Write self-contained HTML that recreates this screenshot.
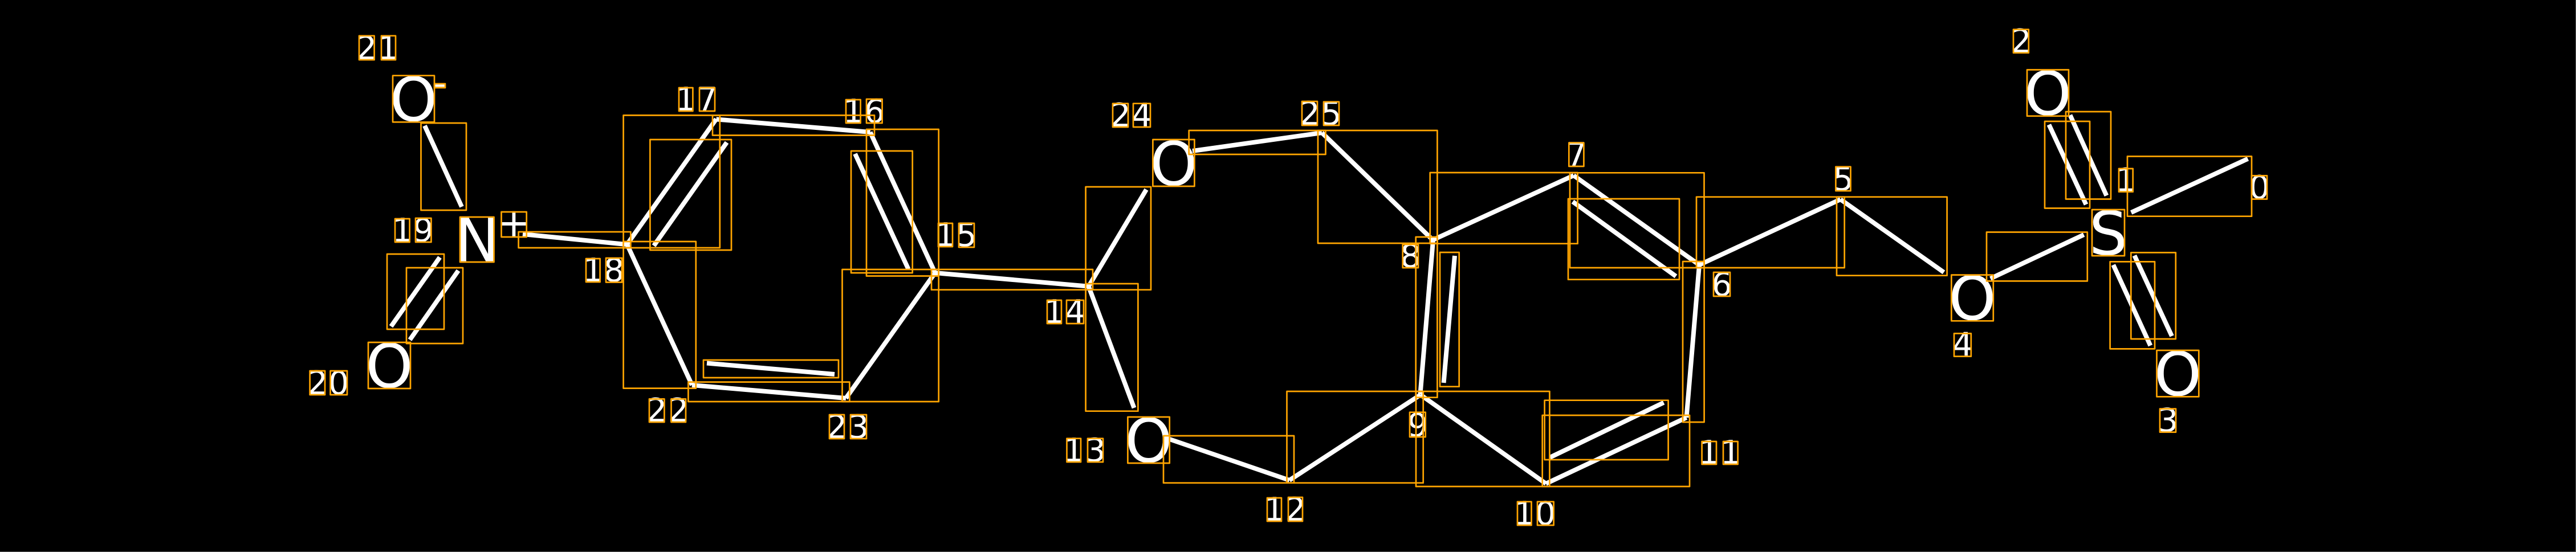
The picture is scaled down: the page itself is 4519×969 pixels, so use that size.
<!DOCTYPE html>
<html><head><meta charset="utf-8"><style>
html,body{margin:0;padding:0;background:#000;width:4519px;height:969px;overflow:hidden}
svg{display:block}
.b{stroke:#fff;stroke-width:8;fill:none}
.r{stroke:#ffa500;stroke-width:2.7;fill:none;stroke-linejoin:round}
text{font-family:"DejaVu Sans",sans-serif;fill:#fff;text-anchor:middle}
.a{font-size:106px}
.n{font-size:57px}
</style></head><body>
<svg width="4519" height="969" viewBox="0 0 4519 969" xmlns="http://www.w3.org/2000/svg">
<rect width="4519" height="969" fill="#000"/>
<rect x="4518" y="0" width="1" height="969" fill="#555"/>
<rect x="0" y="968" width="4519" height="1" fill="#555"/>

<g class="b">
<line x1="745" y1="220.7" x2="810" y2="363"/>
<line x1="917" y1="411" x2="1103" y2="429.5"/>
<line x1="771.5" y1="451.7" x2="686" y2="573"/>
<line x1="804" y1="475" x2="719" y2="596.5"/>
<line x1="1100" y1="429" x2="1256.5" y2="209"/>
<line x1="1147" y1="431.4" x2="1275" y2="250"/>
<line x1="1256.5" y1="209.4" x2="1526.6" y2="232"/>
<line x1="1526.6" y1="232" x2="1640.4" y2="479"/>
<line x1="1500" y1="270" x2="1593.6" y2="472.6"/>
<line x1="1640.4" y1="479" x2="1484" y2="699"/>
<line x1="1214" y1="676" x2="1484" y2="699"/>
<line x1="1240" y1="637.5" x2="1464" y2="657"/>
<line x1="1100" y1="429" x2="1214" y2="676"/>
<line x1="1640.4" y1="479" x2="1909.7" y2="502.7"/>
<line x1="1909.7" y1="502.7" x2="2011" y2="332.7"/>
<line x1="1909.7" y1="502.7" x2="1989.5" y2="716"/>
<line x1="2092" y1="265" x2="2319" y2="233"/>
<line x1="2319" y1="233" x2="2514" y2="421.7"/>
<line x1="2514" y1="421.7" x2="2491.5" y2="692"/>
<line x1="2552" y1="449" x2="2532.6" y2="672"/>
<line x1="2049" y1="770" x2="2262" y2="843"/>
<line x1="2262" y1="843" x2="2492" y2="693"/>
<line x1="2492" y1="693" x2="2712" y2="849"/>
<line x1="2712" y1="849" x2="2958.5" y2="733"/>
<line x1="2719" y1="803" x2="2918.6" y2="706.7"/>
<line x1="2958.5" y1="733" x2="2981" y2="465"/>
<line x1="2514" y1="421" x2="2760.6" y2="308"/>
<line x1="2760.6" y1="308" x2="2981" y2="465"/>
<line x1="2759" y1="354" x2="2940" y2="485"/>
<line x1="2981" y1="465" x2="3228.7" y2="350"/>
<line x1="3228.7" y1="350" x2="3410" y2="478"/>
<line x1="3491.8" y1="489" x2="3655.6" y2="412"/>
<line x1="3594.4" y1="218.8" x2="3659.5" y2="359"/>
<line x1="3631.5" y1="202" x2="3695.4" y2="343.4"/>
<line x1="3738.7" y1="373" x2="3943.4" y2="278.7"/>
<line x1="3707.3" y1="465" x2="3772.4" y2="606.7"/>
<line x1="3744.4" y1="448.6" x2="3810" y2="590"/>
</g>

<g>
<text class="a" x="725.5" y="212">O</text>
<text class="a" x="683" y="680">O</text>
<text class="a" x="837" y="458.5">N</text>
<text class="a" x="2059" y="325">O</text>
<text class="a" x="2015" y="811">O</text>
<text class="a" x="3592.5" y="201.5">O</text>
<text class="a" x="3460" y="561">O</text>
<text class="a" x="3820.5" y="694">O</text>
<text class="a" x="3698.5" y="447">S</text>
<text x="784" y="169" style="font-size:70px;text-anchor:end">-</text>
<text x="901.5" y="415" style="font-size:70px">+</text>

<text class="n" x="643" y="104">2</text><text class="n" x="681" y="104">1</text>
<text class="n" x="1203" y="194">1</text><text class="n" x="1240.5" y="194">7</text>
<text class="n" x="1497" y="215">1</text><text class="n" x="1534" y="215">6</text>
<text class="n" x="1658.5" y="432">1</text><text class="n" x="1695.5" y="432">5</text>
<text class="n" x="706" y="424">1</text><text class="n" x="742.5" y="424">9</text>
<text class="n" x="1040.5" y="494">1</text><text class="n" x="1077" y="494">8</text>
<text class="n" x="557" y="692">2</text><text class="n" x="594" y="692">0</text>
<text class="n" x="1152" y="740">2</text><text class="n" x="1190" y="740">2</text>
<text class="n" x="1468" y="769">2</text><text class="n" x="1506" y="769">3</text>
<text class="n" x="1849.5" y="567">1</text><text class="n" x="1886" y="567">4</text>
<text class="n" x="1965.5" y="222">2</text><text class="n" x="2003" y="222">4</text>
<text class="n" x="2297.5" y="219">2</text><text class="n" x="2335.5" y="219">5</text>
<text class="n" x="2474.5" y="469">8</text>
<text class="n" x="2487" y="766">9</text>
<text class="n" x="1883.5" y="810">1</text><text class="n" x="1921.5" y="810">3</text>
<text class="n" x="2235.5" y="914">1</text><text class="n" x="2272.5" y="914">2</text>
<text class="n" x="2674" y="921">1</text><text class="n" x="2711" y="921">0</text>
<text class="n" x="2998" y="814">1</text><text class="n" x="3036" y="814">1</text>
<text class="n" x="2765.5" y="291">7</text>
<text class="n" x="3233.5" y="334">5</text>
<text class="n" x="3020.5" y="519">6</text>
<text class="n" x="3545.5" y="92">2</text>
<text class="n" x="3729.5" y="335.5">1</text>
<text class="n" x="3963.5" y="348.5">0</text>
<text class="n" x="3443" y="624.5">4</text>
<text class="n" x="3803" y="757.5">3</text>
</g>

<g class="r">
<rect x="630" y="62.8" width="26.6" height="42.2"/><rect x="669" y="62.8" width="25" height="42.2"/>
<rect x="689" y="132.7" width="73" height="81.6"/>
<rect x="762" y="147" width="19" height="7"/>
<rect x="738.5" y="216" width="79.5" height="153"/>
<rect x="693" y="384" width="25.6" height="41"/><rect x="729" y="383" width="27.4" height="42"/>
<rect x="807" y="381" width="59.5" height="79"/>
<rect x="879.5" y="372" width="44.2" height="44"/>
<rect x="909.6" y="407" width="196.8" height="28"/>
<rect x="1028" y="454" width="24.6" height="41"/><rect x="1063" y="453" width="28" height="42.5"/>
<rect x="679" y="446" width="100" height="132"/>
<rect x="713" y="470" width="99" height="133"/>
<rect x="646" y="601" width="74" height="81"/>
<rect x="543.6" y="651" width="26.4" height="42"/><rect x="579.5" y="651" width="29.5" height="42"/>

<rect x="1191" y="154" width="24.4" height="41"/><rect x="1227" y="154" width="27" height="41"/>
<rect x="1484" y="175" width="25.6" height="41"/><rect x="1520" y="174" width="27.6" height="42"/>
<rect x="1646" y="392" width="25" height="41"/><rect x="1682" y="392" width="27" height="42"/>
<rect x="1139" y="700.4" width="26.4" height="40.6"/><rect x="1177.5" y="700.4" width="25.5" height="40.6"/>
<rect x="1455" y="728" width="26" height="42"/><rect x="1492" y="728" width="28" height="42"/>
<rect x="1093.6" y="202.4" width="169.2" height="232.6"/>
<rect x="1140.4" y="245" width="142.6" height="194"/>
<rect x="1250" y="202.4" width="284" height="35.1"/>
<rect x="1520" y="227" width="126.7" height="257.5"/>
<rect x="1493" y="265" width="107.7" height="214"/>
<rect x="1477.5" y="473" width="169.2" height="232"/>
<rect x="1207.4" y="670.6" width="283" height="34.4"/>
<rect x="1234" y="632" width="237" height="31"/>
<rect x="1093.6" y="424" width="127.2" height="257.6"/>
<rect x="1634" y="473" width="283" height="35.7"/>

<rect x="1837" y="527" width="25" height="41"/><rect x="1871" y="527" width="30" height="41"/>
<rect x="1952" y="181.7" width="27" height="41.3"/><rect x="1988" y="181.7" width="30" height="41.3"/>
<rect x="2284" y="178" width="27" height="42"/><rect x="2322" y="178.7" width="27" height="41.3"/>
<rect x="2022.4" y="245" width="73" height="82"/>
<rect x="2085.7" y="229" width="239.8" height="42"/>
<rect x="2312" y="229" width="209.4" height="198"/>
<rect x="1904.6" y="328" width="114.4" height="180.7"/>
<rect x="1904.6" y="498" width="91.8" height="223.7"/>
<rect x="2460.7" y="429" width="27.3" height="41"/>
<rect x="2483.7" y="416" width="37.7" height="281.7"/>
<rect x="2526" y="443" width="33.7" height="235.7"/>

<rect x="1978.4" y="732" width="73.3" height="81"/>
<rect x="1871.5" y="769.7" width="24.5" height="41.3"/><rect x="1908" y="769.7" width="27" height="41.3"/>
<rect x="2041" y="765" width="229" height="82.7"/>
<rect x="2257.5" y="687" width="239.2" height="160.7"/>
<rect x="2473" y="723.7" width="27.7" height="43.3"/>
<rect x="2484" y="687" width="234.4" height="167"/>
<rect x="2705.7" y="729" width="258.3" height="125"/>
<rect x="2709.6" y="702.7" width="217" height="104.3"/>
<rect x="2223" y="874" width="25" height="41"/><rect x="2260" y="873" width="25" height="42"/>
<rect x="2662" y="880.7" width="24.5" height="41.3"/><rect x="2697" y="880.7" width="28.6" height="41.3"/>
<rect x="2985.6" y="775" width="25.4" height="40"/><rect x="3023" y="775" width="25.6" height="40"/>
<rect x="2952" y="459" width="37.6" height="282"/>

<rect x="2752.3" y="250.7" width="26.1" height="41.3"/>
<rect x="3220.4" y="292.7" width="26.1" height="42.3"/>
<rect x="3006" y="478" width="29" height="42"/>
<rect x="2508.7" y="303" width="258.9" height="124.7"/>
<rect x="2754" y="303.3" width="235.5" height="166.7"/>
<rect x="2751" y="349" width="195" height="141.7"/>
<rect x="2976" y="345.7" width="259.7" height="124.3"/>
<rect x="3222" y="345.7" width="193.6" height="138"/>

<rect x="3532" y="51.7" width="26.8" height="41.1"/>
<rect x="3556" y="122.5" width="73" height="81.2"/>
<rect x="3587" y="213" width="79" height="152.5"/>
<rect x="3624" y="196" width="79" height="153.5"/>
<rect x="3717" y="296" width="24.7" height="40.7"/>
<rect x="3670" y="368" width="57" height="81"/>
<rect x="3950" y="308.4" width="27" height="41.1"/>
<rect x="3732" y="274.5" width="218" height="105.2"/>
<rect x="3423.3" y="482.6" width="73.5" height="80.7"/>
<rect x="3428" y="585.4" width="29.8" height="40.2"/>
<rect x="3485" y="407.5" width="176.8" height="85.9"/>
<rect x="3783.5" y="615" width="73.8" height="81.4"/>
<rect x="3789" y="717.6" width="28" height="41"/>
<rect x="3701.6" y="459.4" width="78.4" height="153"/>
<rect x="3738.3" y="443.4" width="78.5" height="151.6"/>
</g>
</svg>
</body></html>
